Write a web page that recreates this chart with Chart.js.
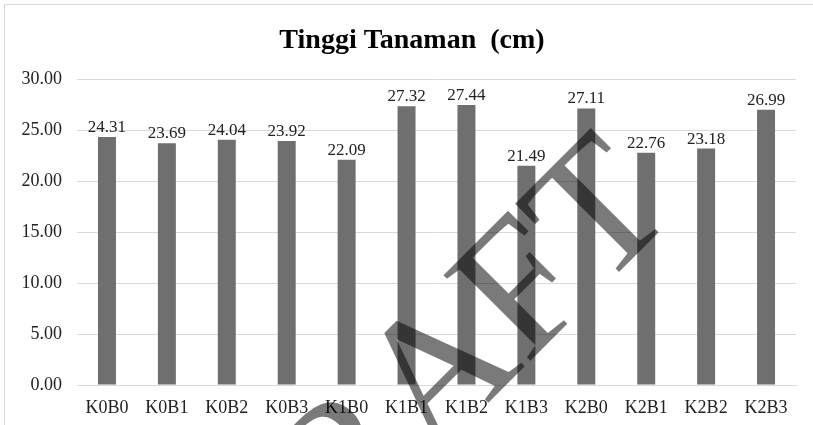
<!DOCTYPE html>
<html>
<head>
<meta charset="utf-8">
<script src="https://cdn.jsdelivr.net/npm/chart.js@4/dist/chart.umd.min.js"></script>
<style>
  html, body { margin: 0; padding: 0; background: #fff; overflow: hidden; }
  #frame { position: absolute; left: 4px; top: 4px; width: 900px; height: 500px; border: 1px solid #d9d9d9; }
  #wrap { position: absolute; left: 0; top: 0; width: 813px; height: 425px; }
</style>
</head>
<body>
<div id="frame"></div>
<div id="wrap"><canvas id="tinggiChart"></canvas></div>
<script>
const categories = ["K0B0","K0B1","K0B2","K0B3","K1B0","K1B1","K1B2","K1B3","K2B0","K2B1","K2B2","K2B3"];
const tinggi = [24.31, 23.69, 24.04, 23.92, 22.09, 27.32, 27.44, 21.49, 27.11, 22.76, 23.18, 26.99];
const yTicks = [0, 5, 10, 15, 20, 25, 30];
const chartTitle = "Tinggi Tanaman  (cm)";

const serif = "'Liberation Serif', 'Times New Roman', serif";

// title is drawn by hand so it can sit a bit right of centre like the original
const titlePlugin = {
  id: "titlePlugin",
  afterDraw(chart) {
    const ctx = chart.ctx;
    ctx.save();
    ctx.font = "bold 28px " + serif;
    ctx.fillStyle = "#000";
    ctx.textAlign = "center";
    ctx.textBaseline = "alphabetic";
    ctx.fillText(chartTitle, 412, 48);
    ctx.restore();
  }
};

// value labels above each bar
const barLabels = {
  id: "barLabels",
  afterDatasetsDraw(chart) {
    const ctx = chart.ctx;
    const meta = chart.getDatasetMeta(0);
    ctx.save();
    ctx.font = "17px " + serif;
    ctx.fillStyle = "#222";
    ctx.textAlign = "center";
    ctx.textBaseline = "alphabetic";
    meta.data.forEach((bar, i) => {
      ctx.fillText(tinggi[i].toFixed(2), bar.x, bar.y - 5);
    });
    ctx.restore();
  }
};

// the DRAFT stamp over the picture
const draftMark = {
  id: "draftMark",
  afterDraw(chart) {
    const ctx = chart.ctx;
    ctx.save();
    ctx.translate(248, 643);
    ctx.rotate(-45 * Math.PI / 180);
    ctx.font = "186px " + serif;
    ctx.fillStyle = "rgba(0,0,0,0.52)";
    ctx.textBaseline = "alphabetic";
    ctx.fillText("DRAFT", 0, 0);
    ctx.restore();
  }
};

new Chart(document.getElementById("tinggiChart"), {
  type: "bar",
  data: {
    labels: categories,
    datasets: [{
      label: "Tinggi Tanaman",
      data: tinggi,
      backgroundColor: "#6f6f6f",
      barPercentage: 0.3,
      categoryPercentage: 1.0
    }]
  },
  options: {
    responsive: true,
    maintainAspectRatio: false,
    animation: false,
    layout: { padding: { left: 0, right: 17, top: 79, bottom: 0 } },
    plugins: {
      legend: { display: false },
      tooltip: { enabled: false },
      title: { display: false }
    },
    scales: {
      x: {
        grid: { display: false, drawTicks: false },
        border: { display: true, color: "#d9d9d9", width: 1 },
        ticks: { color: "#222", font: { family: serif, size: 18 }, padding: 12, maxRotation: 0 },
        afterFit(scale) { scale.height = 40; }
      },
      y: {
        min: 0,
        max: 30,
        afterBuildTicks(scale) { scale.ticks = yTicks.map(v => ({ value: v })); },
        grid: { color: "#d9d9d9", drawTicks: false },
        border: { display: false },
        ticks: {
          color: "#222",
          font: { family: serif, size: 18 },
          padding: 15,
          callback: v => Number(v).toFixed(2)
        },
        afterFit(scale) { scale.width = 77; }
      }
    }
  },
  plugins: [barLabels, titlePlugin, draftMark]
});
</script>
</body>
</html>
